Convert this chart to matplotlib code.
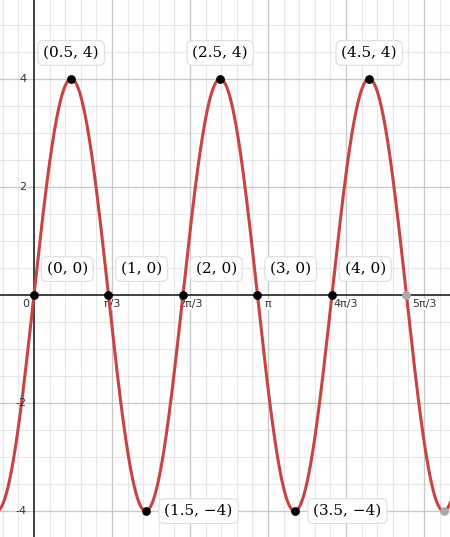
import numpy as np
import matplotlib.pyplot as plt

# labelled points on y = 4 sin(pi x)
px = [0, 0.5, 1, 1.5, 2, 2.5, 3, 3.5, 4, 4.5]
py = [0, 4, 0, -4, 0, 4, 0, -4, 0, 4]
labels = ['(0, 0)', '(0.5, 4)', '(1, 0)', '(1.5, −4)', '(2, 0)', '(2.5, 4)',
          '(3, 0)', '(3.5, −4)', '(4, 0)', '(4.5, 4)']
# grey (unlabelled) points
gx = [5, 5.5]
gy = [0, -4]

xticks = [np.pi / 3, 2 * np.pi / 3, np.pi, 4 * np.pi / 3, 5 * np.pi / 3]
xticklabels = ['π/3', '2π/3', 'π', '4π/3', '5π/3']
yticks = [-4, -2, 2, 4]
yticklabels = ['-4', '-2', '2', '4']

fig = plt.figure(figsize=(4.5, 5.37), dpi=100)
ax = fig.add_axes([0, 0, 1, 1])
ax.set_xlim(-0.456, 5.585)
ax.set_ylim(-4.48, 5.46)

# grid
for v in np.arange(-np.pi / 15 * 2, 5.6, np.pi / 15):
    ax.axvline(v, color='#e6e6e6', lw=0.8, zorder=0)
for v in np.arange(-4.5, 5.6, 0.5):
    ax.axhline(v, color='#e6e6e6', lw=0.8, zorder=0)
for v in xticks:
    ax.axvline(v, color='#c8c8c8', lw=0.9, zorder=0)
for v in [-4, -2, 2, 4]:
    ax.axhline(v, color='#c8c8c8', lw=0.9, zorder=0)
ax.axhline(0, color='#222222', lw=1.2, zorder=1)
ax.axvline(0, color='#222222', lw=1.2, zorder=1)

x = np.linspace(-0.5, 5.6, 1200)
ax.plot(x, 4 * np.sin(np.pi * x), color='#c74440', lw=2.2, zorder=3)

ax.scatter(px, py, s=28, color='black', zorder=4)
ax.scatter(gx, gy, s=28, color='#aaaaaa', zorder=4)

for xi, yi, lab in zip(px, py, labels):
    if yi > 0:
        tx, ty, ha, va = xi, yi + 0.35, 'center', 'bottom'
    elif yi < 0:
        tx, ty, ha, va = xi + 0.25, yi, 'left', 'center'
    else:
        tx, ty, ha, va = xi + 0.17, yi + 0.48, 'left', 'center'
    ax.text(tx, ty, lab, ha=ha, va=va, fontsize=11, family='DejaVu Serif',
            zorder=5, bbox=dict(boxstyle='round,pad=0.35', fc='white',
                                ec='#dddddd', lw=0.8))

for v, lab in zip(xticks, xticklabels):
    ax.text(v, -0.08, lab, ha='center', va='top', fontsize=8, color='#333333',
            zorder=2, bbox=dict(fc='white', ec='none', pad=0.5))
ax.text(-0.06, -0.08, '0', ha='right', va='top', fontsize=8, color='#333333')
for v, lab in zip(yticks, yticklabels):
    ax.text(-0.1, v, lab, ha='right', va='center', fontsize=8, color='#333333')

ax.set_xticks([])
ax.set_yticks([])
for s in ax.spines.values():
    s.set_visible(False)

fig.savefig('out.png', dpi=100)
